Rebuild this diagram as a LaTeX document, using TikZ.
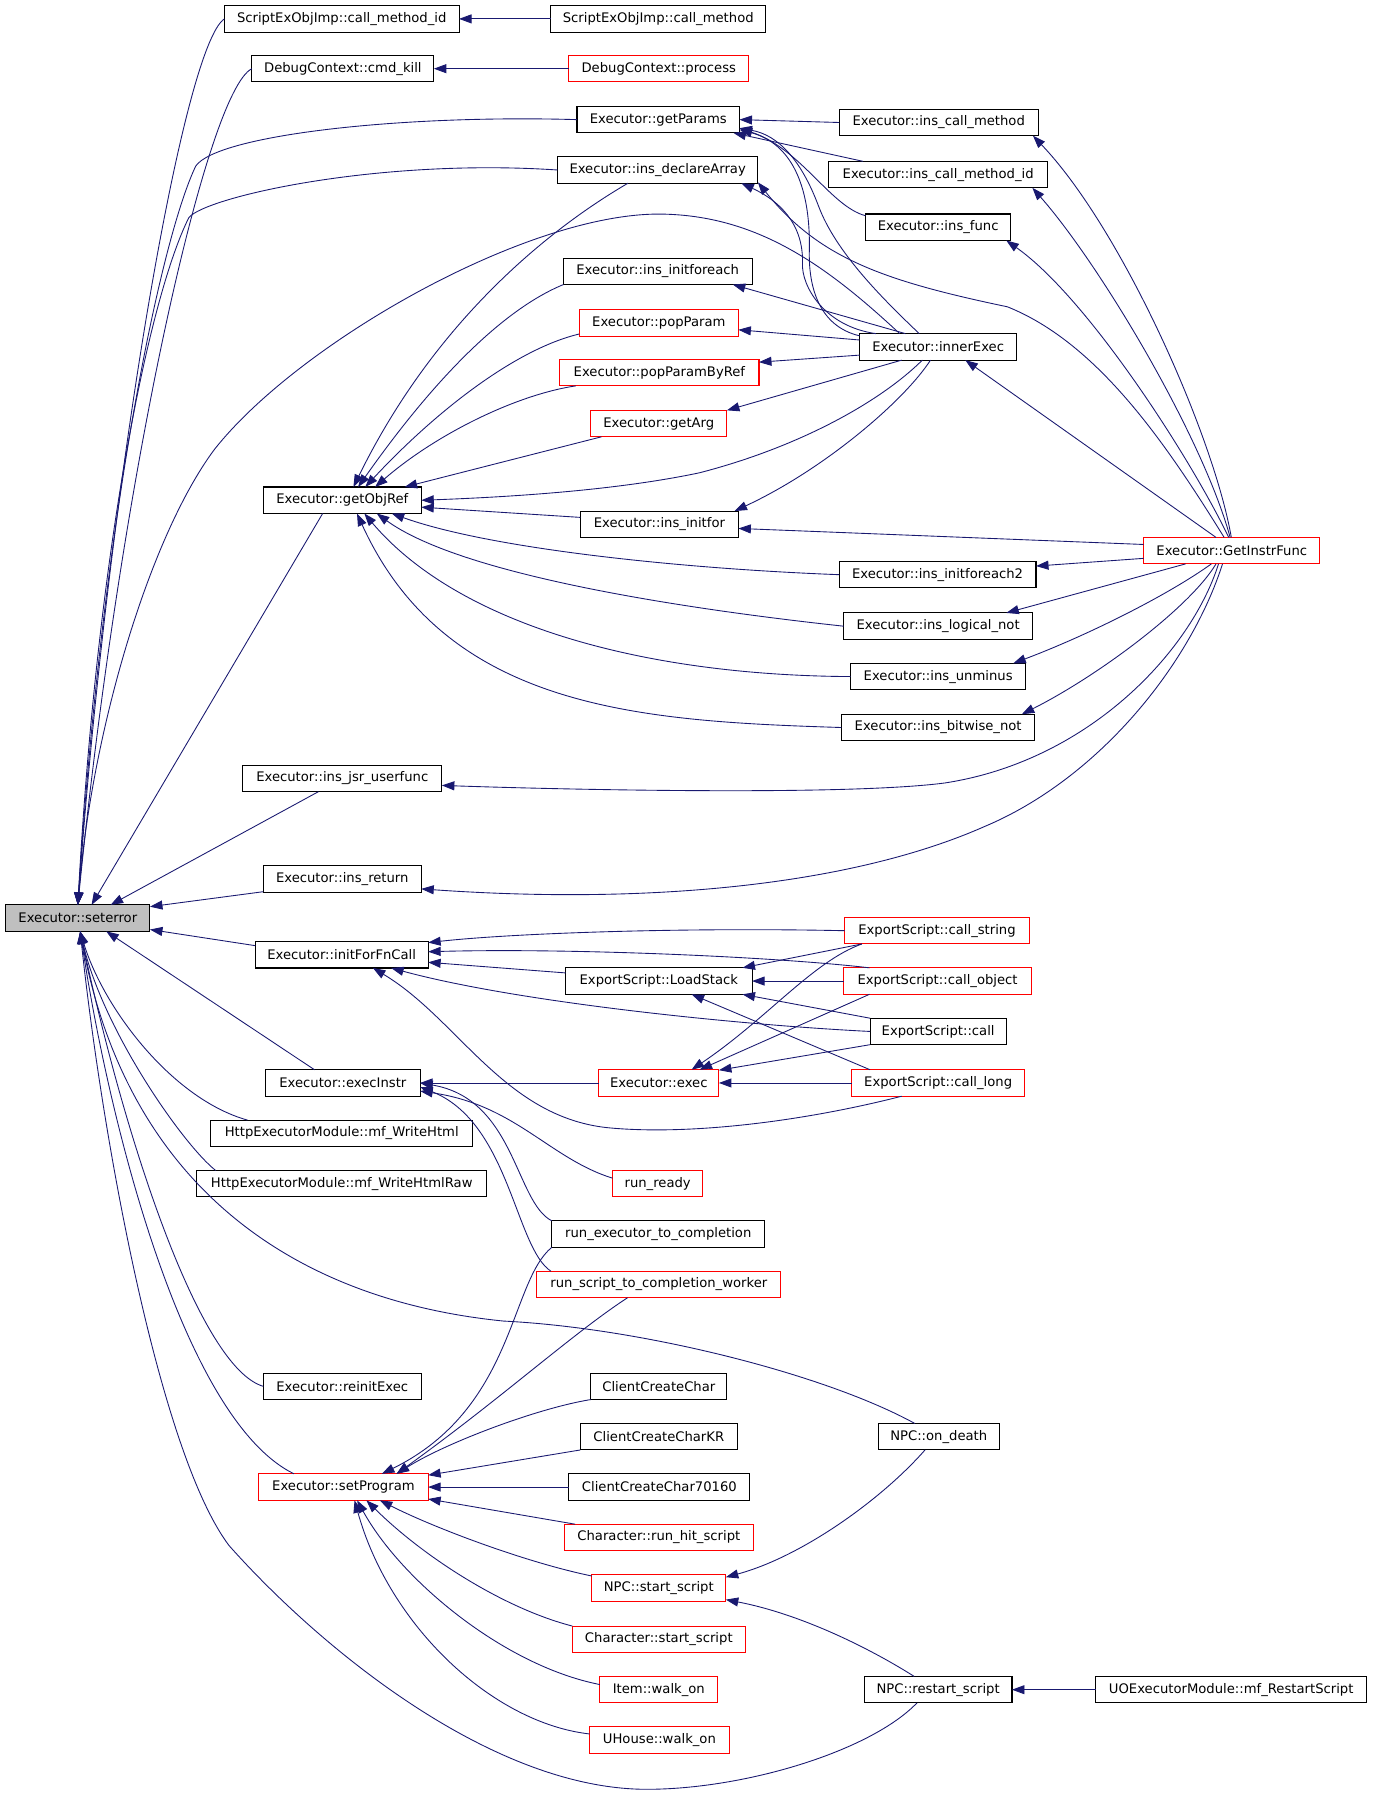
\documentclass[tikz,border=0pt]{standalone}
\usepackage{fontspec}
\setmainfont{DejaVu Sans}
\usetikzlibrary{arrows.meta}
\definecolor{edgeblue}{HTML}{191970}
\tikzset{
    func/.style={
    rectangle,draw=black,fill=white,line width=0.6pt,minimum height=0.53cm,inner sep=0pt,outer sep=0pt,font=\fontsize{7.5}{9}\selectfont
    },
    rfunc/.style={
    func,draw=red
    },
    cur/.style={
    func,fill=black!25
    },
    calls/.style={
    draw=edgeblue,line width=0.5pt,-{Triangle[length=0.25cm,width=0.18cm]}
    },
}

\begin{document}
\begin{tikzpicture}[x=0.022902cm, y=-0.022902cm]
   \useasboundingbox (0,0) rectangle (1199,1568);
   % first column
   \node[cur, minimum width=2.886cm] (seterr) at (68,802) {Executor::seterror};
   % second column
   \node[func, minimum width=4.695cm] (cmid) at (298.5,16.5) {ScriptExObjImp::call\_method\_id};
   \node[func, minimum width=3.641cm] (ckill) at (299.5,60) {DebugContext::cmd\_kill};
   \node[func, minimum width=3.160cm] (objref) at (299,437) {Executor::getObjRef};
   \node[func, minimum width=3.985cm] (jsr) at (299,680) {Executor::ins\_jsr\_userfunc};
   \node[func, minimum width=3.160cm] (iret) at (299,768) {Executor::ins\_return};
   \node[func, minimum width=3.458cm] (initfn) at (298.5,834) {Executor::initForFnCall};
   \node[func, minimum width=3.092cm] (execinstr) at (299.5,946) {Executor::execInstr};
   \node[func, minimum width=5.245cm] (whtml) at (298.5,990) {HttpExecutorModule::mf\_WriteHtml};
   \node[func, minimum width=5.794cm] (whtmlraw) at (298.5,1034) {HttpExecutorModule::mf\_WriteHtmlRaw};
   \node[func, minimum width=3.160cm] (reinit) at (299,1211) {Executor::reinitExec};
   \node[rfunc, minimum width=3.389cm] (setprog) at (300,1299) {Executor::setProgram};
   % third column
   \node[func, minimum width=4.306cm] (cm) at (575,16.5) {ScriptExObjImp::call\_method};
   \node[rfunc, minimum width=3.596cm] (dproc) at (575.5,60) {DebugContext::process};
   \node[func, minimum width=3.252cm] (gparams) at (575,104.5) {Executor::getParams};
   \node[func, minimum width=4.008cm] (idecl) at (574.5,148.5) {Executor::ins\_declareArray};
   \node[func, minimum width=3.779cm] (iforeach) at (574.5,237) {Executor::ins\_initforeach};
   \node[rfunc, minimum width=3.183cm] (popp) at (575.5,282) {Executor::popParam};
   \node[rfunc, minimum width=3.985cm] (poppr) at (576,325.5) {Executor::popParamByRef};
   \node[rfunc, minimum width=2.725cm] (getarg) at (575.5,370) {Executor::getArg};
   \node[func, minimum width=3.160cm] (initfor) at (576,458) {Executor::ins\_initfor};
   \node[func, minimum width=3.733cm] (lstack) at (575.5,857) {ExportScript::LoadStack};
   \node[rfunc, minimum width=2.405cm] (exec) at (575.5,946) {Executor::exec};
   \node[rfunc, minimum width=1.809cm] (runready) at (574.5,1034) {run\_ready};
   \node[func, minimum width=4.260cm] (runexec) at (575,1078) {run\_executor\_to\_completion};
   \node[rfunc, minimum width=4.878cm] (runscript) at (575.5,1122) {run\_script\_to\_completion\_worker};
   \node[func, minimum width=2.725cm] (ccc) at (575.5,1211) {ClientCreateChar};
   \node[func, minimum width=3.138cm] (ccckr) at (575.5,1255) {ClientCreateCharKR};
   \node[func, minimum width=3.619cm] (ccc70) at (576,1299) {ClientCreateChar70160};
   \node[rfunc, minimum width=3.779cm] (runhit) at (575.5,1343) {Character::run\_hit\_script};
   \node[rfunc, minimum width=2.680cm] (npcstart) at (575.5,1387) {NPC::start\_script};
   \node[rfunc, minimum width=3.458cm] (charstart) at (575.5,1432) {Character::start\_script};
   \node[rfunc, minimum width=2.359cm] (itemwalk) at (575.5,1476) {Item::walk\_on};
   \node[rfunc, minimum width=2.794cm] (uhouse) at (576,1520) {UHouse::walk\_on};
   % fourth column
   \node[func, minimum width=3.985cm] (icm) at (820,107) {Executor::ins\_call\_method};
   \node[func, minimum width=4.374cm] (icmid) at (819.5,152.5) {Executor::ins\_call\_method\_id};
   \node[func, minimum width=2.909cm] (ifunc) at (819.5,198.5) {Executor::ins\_func};
   \node[func, minimum width=3.138cm] (inner) at (819.5,303) {Executor::innerExec};
   \node[func, minimum width=3.939cm] (iforeach2) at (819,502) {Executor::ins\_initforeach2};
   \node[func, minimum width=3.779cm] (lnot) at (819.5,547) {Executor::ins\_logical\_not};
   \node[func, minimum width=3.504cm] (unminus) at (819.5,591) {Executor::ins\_unminus};
   \node[func, minimum width=3.870cm] (bnot) at (819.5,635.5) {Executor::ins\_bitwise\_not};
   \node[rfunc, minimum width=3.687cm] (cstring) at (818.5,813) {ExportScript::call\_string};
   \node[rfunc, minimum width=3.756cm] (cobject) at (819,857) {ExportScript::call\_object};
   \node[func, minimum width=2.725cm] (ccall) at (819.5,901) {ExportScript::call};
   \node[rfunc, minimum width=3.458cm] (clong) at (819.5,946) {ExportScript::call\_long};
   \node[func, minimum width=2.428cm] (ondeath) at (820,1255) {NPC::on\_death};
   \node[func, minimum width=2.954cm] (restart) at (819.5,1476) {NPC::restart\_script};
   % fifth column
   \node[rfunc, minimum width=3.527cm] (gif) at (1076,481) {Executor::GetInstrFunc};
   \node[func, minimum width=5.428cm] (uorestart) at (1075.5,1476) {UOExecutorModule::mf\_RestartScript};

   % straight calls
   \draw[calls] (cm.west) -- (cmid.east);
   \draw[calls] (dproc.west) -- (ckill.east);
   \draw[calls] (uorestart.west) -- (restart.east);

   % into seterror
   \draw[calls] (cmid.west) .. controls (160,40) and (95,420) .. (seterr.north);
   \draw[calls] (ckill.west) .. controls (180,80) and (105,420) .. (seterr.north);
   \draw[calls] (gparams.west) .. controls (350,100) and (190,118) .. (171,145) .. controls (140,210) and (90,450) .. (seterr.north);
   \draw[calls] (idecl.west) .. controls (330,138) and (180,172) .. (165,190) .. controls (130,260) and (85,480) .. (seterr.north);
   \draw[calls] (inner.161) .. controls (720,230) and (660,188) .. (577,187) .. controls (460,186) and (260,300) .. (187,393) .. controls (130,470) and (80,640) .. (seterr.north);
   \draw[calls] (objref.-146) -- (seterr.44);
   \draw[calls] (jsr.-151) -- (seterr.22);
   \draw[calls] (iret.-171) -- (seterr.9);
   \draw[calls] (initfn.174) -- (seterr.-9);
   \draw[calls] (execinstr.155) -- (seterr.-25);
   \draw[calls] (whtml.172) .. controls (150,960) and (90,880) .. (seterr.-80);
   \draw[calls] (whtmlraw.174) .. controls (160,1000) and (90,900) .. (seterr.-80);
   \draw[calls] (ondeath.151) .. controls (720,1200) and (560,1160) .. (440,1154) .. controls (250,1135) and (110,1030) .. (seterr.-80);
   \draw[calls] (reinit.west) .. controls (175,1195) and (110,1000) .. (seterr.-80);
   \draw[calls] (setprog.165) .. controls (160,1240) and (95,980) .. (seterr.-80);
   \draw[calls] (restart.-148) .. controls (760,1530) and (650,1563) .. (565,1563) .. controls (430,1563) and (280,1440) .. (200,1350) .. controls (140,1270) and (90,1000) .. (seterr.-80);

   % from GetInstrFunc
   \draw[calls] (gif.92) .. controls (1060,380) and (980,200) .. (icm.-8);
   \draw[calls] (gif.97) .. controls (1050,380) and (960,230) .. (icmid.-8);
   \draw[calls] (gif.103) .. controls (1040,400) and (950,260) .. (ifunc.-11);
   \draw[calls] (gif.120) .. controls (1020,390) and (960,300) .. (880,268) .. controls (770,245) and (715,225) .. (idecl.-7);
   \draw[calls] (gif.140) -- (inner.-26);
   \draw[calls] (gif.176) -- (initfor.-3);
   \draw[calls] (gif.-175) -- (iforeach2.5);
   \draw[calls] (gif.-164) -- (lnot.11);
   \draw[calls] (gif.-147) .. controls (1020,520) and (950,555) .. (unminus.10);
   \draw[calls] (gif.-140) .. controls (1040,530) and (960,590) .. (bnot.9);
   \draw[calls] (gif.-135) .. controls (1040,570) and (950,665) .. (825,684) .. controls (740,695) and (500,690) .. (jsr.-4);
   \draw[calls] (gif.-125) .. controls (1040,580) and (960,680) .. (860,722) .. controls (740,775) and (560,790) .. (iret.-7);

   % from innerExec
   \draw[calls] (inner.158) -- (iforeach.-10);
   \draw[calls] (inner.175) -- (popp.-5);
   \draw[calls] (inner.-174) -- (poppr.6);
   \draw[calls] (inner.-160) -- (getarg.11);
   \draw[calls] (inner.-140) .. controls (770,350) and (700,390) .. (611,413) .. controls (540,428) and (450,434) .. (objref.east);
   \draw[calls] (inner.-120) .. controls (790,350) and (720,410) .. (initfor.10);
   \draw[calls] (inner.172) .. controls (715,285) and (706,250) .. (707,218) .. controls (708,160) and (690,125) .. (gparams.-7);
   \draw[calls] (inner.145) .. controls (770,260) and (730,220) .. (715,180) .. controls (700,140) and (680,118) .. (gparams.-6);
   \draw[calls] (inner.168) .. controls (720,285) and (700,250) .. (701,230) .. controls (702,195) and (680,175) .. (idecl.-9);

   % into getParams
   \draw[calls] (icm.west) -- (gparams.east);
   \draw[calls] (icmid.170) -- (gparams.-10);
   \draw[calls] (ifunc.171) .. controls (725,180) and (700,130) .. (gparams.-6);

   % into getObjRef
   \draw[calls] (idecl.-156) .. controls (480,200) and (380,280) .. (objref.50);
   \draw[calls] (iforeach.-172) .. controls (440,270) and (380,330) .. (objref.40);
   \draw[calls] (popp.-172) .. controls (450,305) and (380,360) .. (objref.30);
   \draw[calls] (poppr.-171) .. controls (450,345) and (380,380) .. (objref.22);
   \draw[calls] (getarg.-167) -- (objref.12);
   \draw[calls] (initfor.175) -- (objref.-5);
   \draw[calls] (iforeach2.west) .. controls (600,497) and (430,480) .. (objref.-15);
   \draw[calls] (lnot.west) .. controls (580,530) and (400,500) .. (objref.-21);
   \draw[calls] (unminus.west) .. controls (560,590) and (400,545) .. (objref.-31);
   \draw[calls] (bnot.west) .. controls (560,630) and (390,620) .. (objref.-42);

   % into initForFnCall, LoadStack, exec
   \draw[calls] (cstring.west) .. controls (600,810) and (450,815) .. (initfn.8);
   \draw[calls] (cobject.169) .. controls (680,836) and (500,828) .. (initfn.2);
   \draw[calls] (lstack.175) -- (initfn.-5);
   \draw[calls] (ccall.west) .. controls (640,895) and (450,875) .. (initfn.-15);
   \draw[calls] (clong.-160) .. controls (700,980) and (600,992) .. (530,985) .. controls (440,975) and (400,890) .. (initfn.-23);
   \draw[calls] (cstring.-170) -- (lstack.9);
   \draw[calls] (cobject.west) -- (lstack.east);
   \draw[calls] (ccall.north west) -- (lstack.-9);
   \draw[calls] (clong.169) -- (lstack.-22);
   \draw[calls] (cstring.-170) .. controls (710,840) and (670,890) .. (exec.22);
   \draw[calls] (cobject.-169) -- (exec.18);
   \draw[calls] (ccall.south west) -- (exec.12);
   \draw[calls] (clong.west) -- (exec.east);

   % into execInstr
   \draw[calls] (exec.west) -- (execinstr.east);
   \draw[calls] (runready.173) .. controls (480,1012) and (450,965) .. (execinstr.-6);
   \draw[calls] (runexec.north west) .. controls (450,1050) and (450,960) .. (execinstr.east);
   \draw[calls] (runscript.173) .. controls (450,1090) and (445,980) .. (execinstr.-3);

   % into setProgram
   \draw[calls] (runexec.south west) .. controls (445,1120) and (450,1230) .. (setprog.19);
   \draw[calls] (runscript.-157) .. controls (500,1165) and (440,1220) .. (setprog.14);
   \draw[calls] (ccc.south west) .. controls (470,1230) and (390,1260) .. (setprog.14);
   \draw[calls] (ccckr.south west) -- (setprog.8);
   \draw[calls] (ccc70.west) -- (setprog.east);
   \draw[calls] (runhit.171) -- (setprog.-8);
   \draw[calls] (npcstart.170) .. controls (460,1365) and (380,1335) .. (setprog.-20);
   \draw[calls] (charstart.north west) .. controls (440,1405) and (370,1360) .. (setprog.-30);
   \draw[calls] (itemwalk.175) .. controls (440,1455) and (350,1380) .. (setprog.-44);
   \draw[calls] (uhouse.175) .. controls (430,1505) and (340,1420) .. (setprog.-50);

   % NPC
   \draw[calls] (ondeath.-136) .. controls (770,1310) and (700,1360) .. (npcstart.9);
   \draw[calls] (restart.151) .. controls (760,1440) and (700,1410) .. (npcstart.-10);
\end{tikzpicture}
\end{document}
